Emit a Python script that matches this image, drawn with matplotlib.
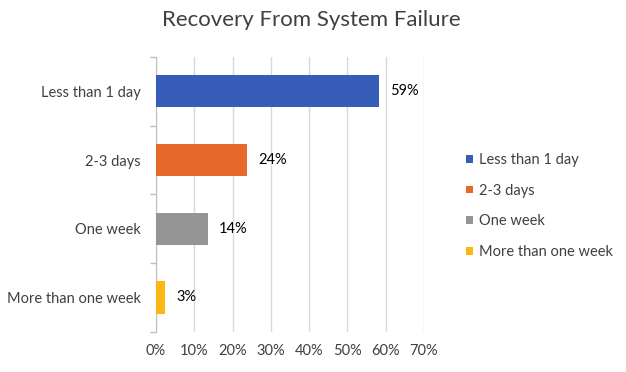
import matplotlib
matplotlib.use("Agg")
import matplotlib.pyplot as plt
from matplotlib.patches import Patch

plt.rcParams['font.family'] = ['Lato', 'DejaVu Sans']

categories = ["Less than 1 day", "2-3 days", "One week", "More than one week"]
values = [58.3, 23.7, 13.6, 2.4]
value_labels = ["59%", "24%", "14%", "3%"]
colors = ["#365EB8", "#E5692A", "#959595", "#FDB714"]
xticks = [0, 10, 20, 30, 40, 50, 60, 70]

fig = plt.figure(figsize=(6.26, 3.72), dpi=100)
W, H = 626, 372
ax = fig.add_axes([156 / W, 1 - 331.7 / H, (424 - 156) / W, (331.7 - 57) / H])

ypos = list(range(len(categories)))
ax.barh(ypos, values, height=0.47, color=colors, zorder=3)
ax.set_ylim(len(categories) - 0.5, -0.5)
ax.set_xlim(0, 70)

for y, v, lab in zip(ypos, values, value_labels):
    ax.text(v + 2.9, y, lab, va='center', ha='left', fontsize=10.5, color='black')

ax.set_xticks(xticks)
ax.set_xticklabels([f"{t}%" for t in xticks], fontsize=10.5, color='#404040')
ax.tick_params(axis='x', length=0, pad=9)

ax.set_yticks(ypos)
ax.set_yticklabels(categories, fontsize=10.5, color='#404040')
ax.set_yticks([i + 0.5 for i in range(-1, len(categories))], minor=True)
ax.tick_params(axis='y', which='major', length=0, pad=11)
ax.tick_params(axis='y', which='minor', length=4, color='#BFBFBF', width=1)

ax.grid(axis='x', color='#D9D9D9', linewidth=1, zorder=0)
for s in ['top', 'right', 'bottom']:
    ax.spines[s].set_visible(False)
ax.spines['left'].set_color('#BFBFBF')

fig.text(311 / W, 1 - 20 / H, "Recovery From System Failure", ha='center', va='center',
         fontsize=16, color='#404040')

handles = [Patch(facecolor=c, label=l) for c, l in zip(colors, categories)]
fig.legend(handles=handles, loc='center left', bbox_to_anchor=(453 / W, 1 - 206 / H),
           frameon=False, fontsize=10.5, handlelength=0.45, handleheight=0.45,
           handletextpad=0.4, labelspacing=1.14, labelcolor='#404040')

fig.savefig("out.png", dpi=100)
